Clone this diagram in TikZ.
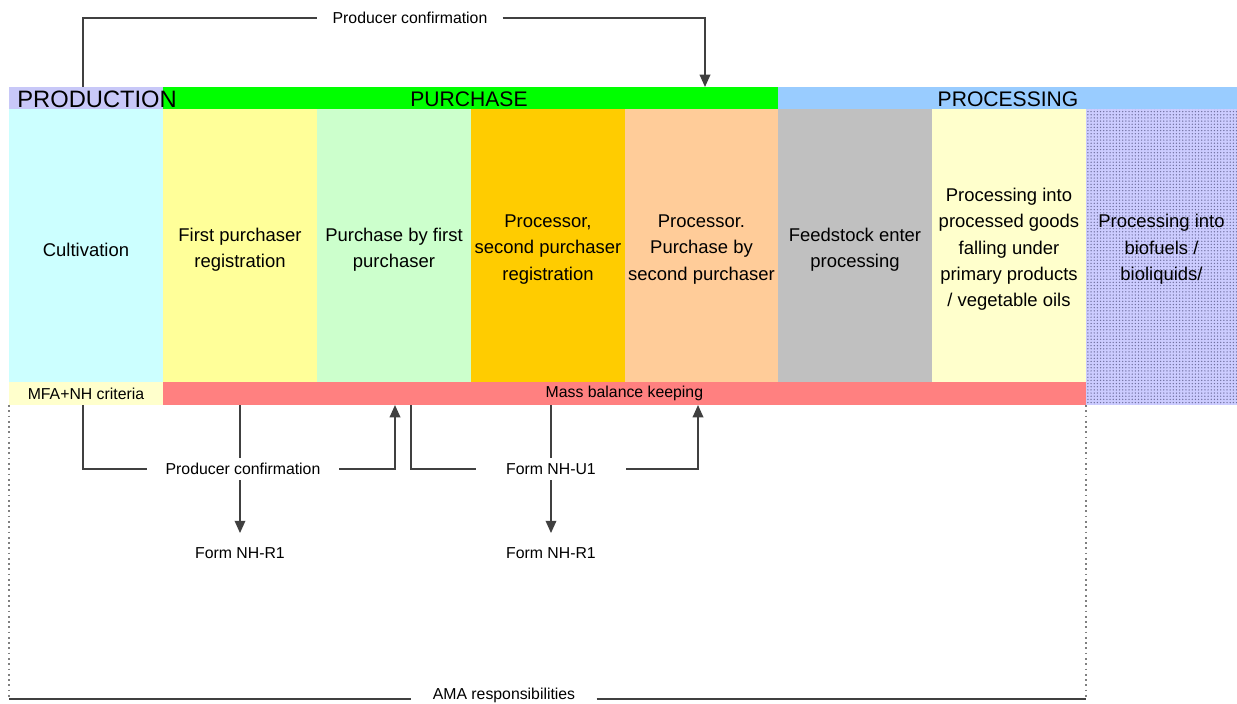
\documentclass[tikz,border=0pt]{standalone}
\usepackage{fontspec}
\setmainfont{Liberation Sans}
\usetikzlibrary{arrows.meta,patterns.meta}
\definecolor{cprodh}{HTML}{C8C8F8}
\definecolor{cgreen}{HTML}{00FF00}
\definecolor{cblue}{HTML}{99CCFF}
\definecolor{ccyan}{HTML}{CCFFFF}
\definecolor{cyel}{HTML}{FFFF99}
\definecolor{clgreen}{HTML}{CCFFCC}
\definecolor{corange}{HTML}{FFCC00}
\definecolor{cpeach}{HTML}{FFCC99}
\definecolor{cgray}{HTML}{C0C0C0}
\definecolor{clyel}{HTML}{FFFFCC}
\definecolor{cred}{HTML}{FF8080}
\definecolor{clav}{HTML}{CCCCFF}
\definecolor{cdot}{HTML}{7070A0}
\definecolor{cline}{HTML}{404040}
\newcommand{\colfnt}{\fontsize{10.5}{15}\selectfont}
\newcommand{\headfnt}{\fontsize{13.5}{15}\selectfont}
\newcommand{\headfntb}{\fontsize{12}{14}\selectfont}
\newcommand{\smallfnt}{\fontsize{9}{11}\selectfont}
\begin{document}
\begin{tikzpicture}[x=0.02cm,y=-0.02cm,
  band/.style={inner sep=0pt, outer sep=0pt, minimum height=0.44cm, anchor=north west},
  col/.style={inner sep=0pt, outer sep=0pt, minimum height=5.46cm, minimum width=3.08cm, anchor=north west},
  coltxt/.style={inner sep=0pt, align=center, font=\colfnt, yshift=-0.08cm},
  row/.style={inner sep=0pt, outer sep=0pt, minimum height=0.46cm, anchor=north west, font=\smallfnt},
  hlabel/.style={inner sep=0pt, font=\headfntb},
  lbl/.style={font=\smallfnt, inner ysep=3pt},
  conn/.style={draw=cline, line width=1pt},
  arr/.style={conn, -{Triangle[width=6pt,length=7pt]}},
  edge/.style={draw=gray, dotted, line width=1pt},
  base/.style={draw=cline, line width=1.4pt}
]
\useasboundingbox (0,0) rectangle (1237,703);
% header bands
\node[band, fill=cprodh, minimum width=3.08cm] (hprod) at (9,87) {};
\node[band, fill=cgreen, minimum width=12.30cm] (hpur) at (163,87) {};
\node[band, fill=cblue, minimum width=9.18cm] (hproc) at (778,87) {};
\node[hlabel, font=\headfnt, anchor=west] (tprod) at (17,99) {PRODUCTION};
\node[hlabel] (tpur) at (469,99) {PURCHASE};
\node[hlabel] (tproc) at (1008,99) {PROCESSING};
% columns
\node[col, fill=ccyan] (c1) at (9,109) {};
\node[col, fill=cyel] (c2) at (163,109) {};
\node[col, fill=clgreen] (c3) at (317,109) {};
\node[col, fill=corange] (c4) at (471,109) {};
\node[col, fill=cpeach, minimum width=3.06cm] (c5) at (625,109) {};
\node[col, fill=cgray] (c6) at (778,109) {};
\node[col, fill=clyel] (c7) at (932,109) {};
\node[col, fill=clav, minimum width=3.02cm, minimum height=5.92cm,
  postaction={pattern={Dots[distance=1.8pt,radius=0.42pt]}, pattern color=cdot}] (c8) at (1086,109) {};
\node[coltxt] (c1t) at (c1.center) {Cultivation};
\node[coltxt] (c2t) at (c2.center) {First purchaser\\registration};
\node[coltxt] (c3t) at (c3.center) {Purchase by first\\purchaser};
\node[coltxt] (c4t) at (c4.center) {Processor,\\second purchaser\\registration};
\node[coltxt] (c5t) at (c5.center) {Processor.\\Purchase by\\second purchaser};
\node[coltxt] (c6t) at (c6.center) {Feedstock enter\\processing};
\node[coltxt] (c7t) at (c7.center) {Processing into\\processed goods\\falling under\\primary products\\/ vegetable oils};
\node[coltxt] (c8t) at (c4.center -| c8.center) {Processing into\\biofuels /\\bioliquids/};
% lower row
\node[row, fill=clyel, minimum width=3.08cm] (mfa) at (9,382) {MFA+NH criteria};
\node[row, fill=cred, minimum width=18.46cm] (mb) at (163,382) {Mass balance keeping};
% labels
\node[lbl, inner xsep=8.5pt] (pc1) at (410,18) {Producer confirmation};
\node[lbl, inner xsep=10.5pt] (pc2) at (243,469) {Producer confirmation};
\node[lbl, inner xsep=17pt] (u1) at (551,469) {Form NH-U1};
\node[lbl, inner ysep=8pt] (r1) at (240,553) {Form NH-R1};
\node[lbl, inner ysep=8pt] (r2) at (551,553) {Form NH-R1};
\node[lbl, inner xsep=12pt] (ama) at (504,695) {AMA responsibilities};
% coordinates
\coordinate (t1) at (83,87);
\coordinate (t2) at (705,87);
\coordinate (b2) at (395,405);
\coordinate (b3) at (411,405);
\coordinate (b4) at (698,405);
\coordinate (d1) at (9,405);
\coordinate (d2) at (1086,405);
\coordinate (l1) at (9,699);
\coordinate (l2) at (1086,699);
% top connector
\draw[conn] (t1) |- (pc1.west);
\draw[arr] (pc1.east) -| (t2);
% bottom connectors
\draw[conn] (mfa.south -| t1) |- (pc2.west);
\draw[arr] (pc2.east) -| (b2);
\draw[conn] (mb.south -| r1.north) -- (pc2.north -| r1.north);
\draw[arr] (pc2.south -| r1.north) -- (r1.north);
\draw[conn] (b3) |- (u1.west);
\draw[arr] (u1.east) -| (b4);
\draw[conn] (mb.south -| u1.north) -- (u1.north);
\draw[arr] (u1.south) -- (r2.north);
% responsibility frame
\draw[edge] (d1) -- (l1);
\draw[edge] (d2) -- (l2);
\draw[base] (l1) -- (l1 -| ama.west);
\draw[base] (ama.east |- l2) -- (l2);
\end{tikzpicture}
\end{document}
